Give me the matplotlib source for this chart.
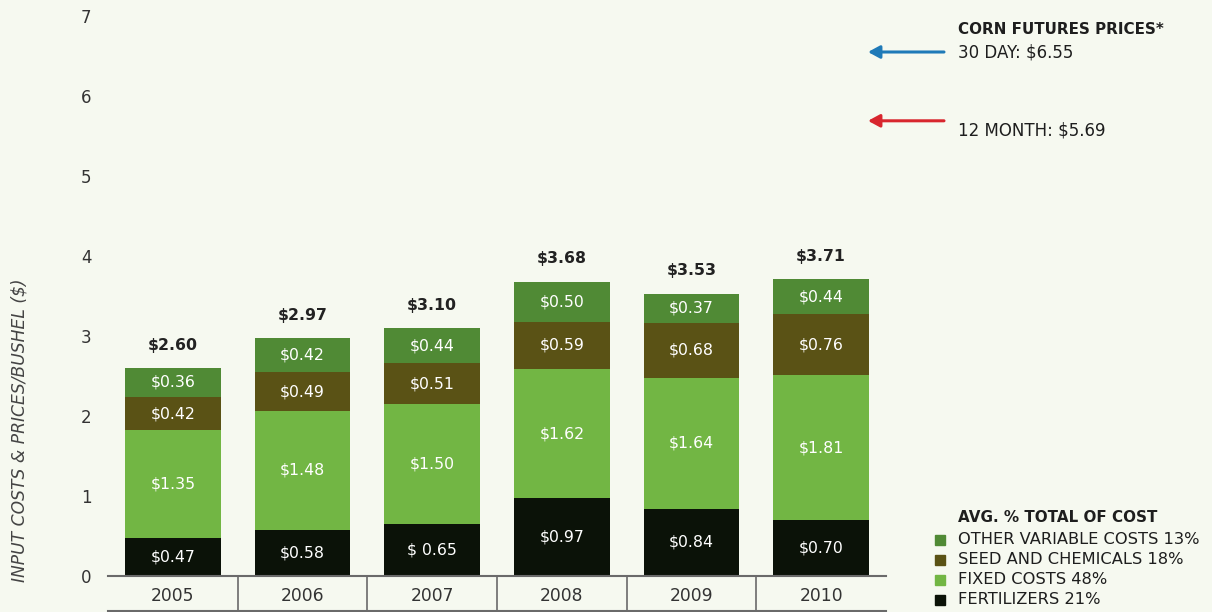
import matplotlib
matplotlib.use("Agg")
import matplotlib.pyplot as plt
import matplotlib.transforms as mtransforms
from matplotlib.patches import Rectangle
import numpy as np

plt.rcParams['font.family'] = ['DejaVu Sans']

years = ["2005", "2006", "2007", "2008", "2009", "2010"]
fertilizers = [0.47, 0.58, 0.65, 0.97, 0.84, 0.70]
fixed_costs = [1.35, 1.48, 1.50, 1.62, 1.64, 1.81]
seed_chem = [0.42, 0.49, 0.51, 0.59, 0.68, 0.76]
other_var = [0.36, 0.42, 0.44, 0.50, 0.37, 0.44]
fert_labels = ["$0.47", "$0.58", "$ 0.65", "$0.97", "$0.84", "$0.70"]
totals = [2.60, 2.97, 3.10, 3.68, 3.53, 3.71]

futures_30day = 6.55
futures_12month = 5.69

legend_names = ["OTHER VARIABLE COSTS 13%", "SEED AND CHEMICALS 18%",
                "FIXED COSTS 48%", "FERTILIZERS 21%"]

BG = "#f6f9f0"
C_OTHER = "#508a35"
C_SEED = "#5a5215"
C_FIXED = "#72b644"
C_FERT = "#0b1208"
TXT = "#222222"
LINE = "#6a6a6a"

fig = plt.figure(figsize=(12.12, 6.12), dpi=100, facecolor=BG)
ax = fig.add_axes([108/1212, 36/612, 778/1212, 560/612], facecolor=BG)

x = np.arange(len(years))
w = 0.74
series = [(fertilizers, C_FERT), (fixed_costs, C_FIXED), (seed_chem, C_SEED), (other_var, C_OTHER)]
bottom = np.zeros(len(years))
for idx, (vals, col) in enumerate(series):
    vals = np.array(vals)
    ax.bar(x, vals, w, bottom=bottom, color=col, linewidth=0)
    for i in range(len(years)):
        if idx == 0:
            lab = fert_labels[i]
        else:
            lab = f"${vals[i]:.2f}"
        ax.text(x[i], bottom[i] + vals[i] / 2, lab, ha="center", va="center",
                color="white", fontsize=11.3)
    bottom = bottom + vals

for i in range(len(years)):
    ax.annotate(f"${totals[i]:.2f}", xy=(x[i], bottom[i]), xytext=(0, 11),
                textcoords="offset points", ha="center", va="bottom",
                color=TXT, fontsize=11.3, fontweight="bold")

ax.set_xlim(-0.5, len(years) - 0.5)
ax.set_ylim(0, 7)
ax.set_yticks(range(0, 8))
ax.tick_params(axis="y", length=0, pad=12, labelsize=12, labelcolor="#333333")
ax.set_xticks([])
for s in ["top", "right", "left"]:
    ax.spines[s].set_visible(False)
ax.spines["bottom"].set_color(LINE)
ax.spines["bottom"].set_linewidth(1.5)

# category band below axis
trans_x = mtransforms.blended_transform_factory(ax.transData, fig.transFigure)
y_top = 36 / 612
y_bot = 1.5 / 612
ax.plot([-0.5, len(years) - 0.5], [y_bot, y_bot], transform=trans_x, color=LINE,
        lw=1.5, clip_on=False)
for b in np.arange(0.5, len(years) - 0.5, 1):
    ax.plot([b, b], [y_top, y_bot], transform=trans_x, color=LINE, lw=1.2, clip_on=False)
for i, yr in enumerate(years):
    ax.text(x[i], 16 / 612, yr, transform=trans_x, ha="center", va="center",
            fontsize=12.3, color="#333333")

fig.text(20 / 1212, 1 - 430 / 612, "INPUT COSTS & PRICES/BUSHEL ($)", rotation=90,
         ha="center", va="center", fontsize=12.3, style="italic", color="#444444")

# futures arrows
trans_fy = mtransforms.blended_transform_factory(fig.transFigure, ax.transData)
for val, col in [(futures_30day, "#1f7ab8"), (futures_12month, "#d8262e")]:
    ax.annotate("", xy=(868 / 1212, val), xytext=(944 / 1212, val),
                xycoords=trans_fy, textcoords=trans_fy,
                arrowprops=dict(arrowstyle="-|>,head_length=0.7,head_width=0.38",
                                color=col, lw=2.2, shrinkA=0, shrinkB=0))
fig.text(958 / 1212, 1 - 30 / 612, "CORN FUTURES PRICES*", fontsize=10.9,
         fontweight="bold", color="#1e1e1e", va="center")
fig.text(958 / 1212, futures_30day, f"30 DAY: ${futures_30day:.2f}", fontsize=12,
         color="#1e1e1e", va="center", transform=trans_fy)
fig.text(958 / 1212, 1 - 130 / 612, f"12 MONTH: ${futures_12month:.2f}", fontsize=12,
         color="#1e1e1e", va="center")

# legend
fig.text(958 / 1212, 1 - 518 / 612, "AVG. % TOTAL OF COST", fontsize=10.9,
         fontweight="bold", color="#1e1e1e", va="center")
leg_cols = [C_OTHER, C_SEED, C_FIXED, C_FERT]
for j, (name, col) in enumerate(zip(legend_names, leg_cols)):
    yy = 540 + 20 * j
    fig.patches.append(Rectangle((935 / 1212, 1 - (yy + 5) / 612), 10 / 1212, 10 / 612,
                                 transform=fig.transFigure, color=col, figure=fig))
    fig.text(958 / 1212, 1 - yy / 612, name, fontsize=11.7,
             color="#1e1e1e", va="center")

fig.savefig("out.png", dpi=100, facecolor=BG)
